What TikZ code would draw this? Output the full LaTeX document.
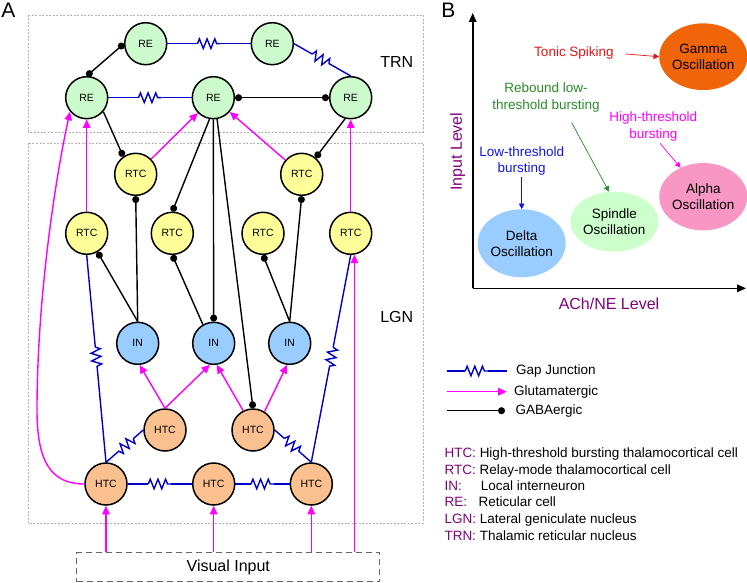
\documentclass[tikz,border=0pt]{standalone}
\usepackage{fontspec}
\setmainfont{Liberation Sans}
\usetikzlibrary{arrows.meta,decorations.pathmorphing,calc,shapes.geometric}
\definecolor{gapblue}{RGB}{0,0,200}
\definecolor{glumag}{RGB}{255,0,255}
\definecolor{abbr}{RGB}{128,0,128}
\definecolor{refill}{RGB}{204,250,204}
\definecolor{rtcfill}{RGB}{255,255,153}
\definecolor{infill}{RGB}{153,204,255}
\definecolor{htcfill}{RGB}{250,192,143}
\definecolor{gammafill}{RGB}{240,100,10}
\definecolor{alphafill}{RGB}{248,150,196}
\definecolor{spinfill}{RGB}{204,255,204}
\definecolor{deltafill}{RGB}{153,204,255}
\definecolor{tonicred}{RGB}{230,20,20}
\definecolor{rebgreen}{RGB}{40,140,40}
\definecolor{lowblue}{RGB}{20,20,230}
\newcommand{\gapjn}[2]{%
  \path (#1) -- coordinate[pos=0.5] (gjm) (#2);
  \draw[gapl] (#1) -- ($(gjm)!11.5pt!(#1)$);
  \draw[gapzz] ($(gjm)!11.5pt!(#1)$) -- ($(gjm)!11.5pt!(#2)$);
  \draw[gapl] ($(gjm)!11.5pt!(#2)$) -- (#2);
}
\begin{document}
\begin{tikzpicture}[x=1pt,y=-1pt,
  cell/.style={circle, draw=black, line width=1.5pt, minimum size=42pt, inner sep=0pt, font=\fontsize{10.5}{12}\selectfont},
  recell/.style={cell, fill=refill},
  rtccell/.style={cell, fill=rtcfill},
  incell/.style={cell, fill=infill},
  htccell/.style={cell, fill=htcfill},
  gaba/.style={draw=black, line width=1.4pt, -{Circle[length=7pt]}},
  gababoth/.style={draw=black, line width=1.4pt, {Circle[length=7pt]}-{Circle[length=7pt]}},
  glu/.style={draw=glumag, line width=1.4pt, -{Triangle[length=8.5pt,width=7.5pt]}},
  gapl/.style={draw=gapblue, line width=1.4pt, line join=miter},
  gapzz/.style={gapl, decorate, decoration={zigzag, segment length=7.67pt, amplitude=4.8pt}},
  region/.style={draw=gray!60, line width=0.6pt, dash pattern=on 2pt off 1.5pt},
  lbl/.style={font=\fontsize{16}{19}\selectfont},
  bigl/.style={font=\fontsize{21}{24}\selectfont},
  btxt/.style={font=\fontsize{13.5}{16.5}\selectfont, align=center},
  osc/.style={ellipse, inner sep=0pt, font=\fontsize{13.5}{16}\selectfont, align=center},
  thin/.style={line width=0.7pt, -{Triangle[length=5.5pt,width=5.5pt]}},
  axis/.style={draw=black, line width=1.6pt, -{Triangle[length=9pt,width=7.5pt]}},
  defs/.style={anchor=base west, inner sep=0pt, font=\fontsize{13.5}{16}\selectfont},
  legt/.style={anchor=west, inner sep=0pt, font=\fontsize{13.5}{16}\selectfont}
]
\useasboundingbox (0,0) rectangle (747,583);

% ---------- Panel A ----------
\node[bigl] (labA) at (8.5,10) {A};
\draw[region] (28,15) rectangle (423,132);
\draw[region] (28,143) rectangle (423,523);
\node[lbl] (trn) at (396.7,62) {TRN};
\node[lbl] (lgn) at (396.7,316.7) {LGN};

\node[recell] (re1) at (145.7,43.7) {RE};
\node[recell] (re2) at (272.3,43.7) {RE};
\node[recell] (re3) at (86.7,97.7) {RE};
\node[recell] (re4) at (213.3,97.7) {RE};
\node[recell] (re5) at (350.7,97.7) {RE};

\node[rtccell] (rtc1) at (135.7,174.3) {RTC};
\node[rtccell] (rtc2) at (301.7,174.3) {RTC};
\node[rtccell] (rtc3) at (86.7,233.3) {RTC};
\node[rtccell] (rtc4) at (172.3,233.3) {RTC};
\node[rtccell] (rtc5) at (263,233.3) {RTC};
\node[rtccell] (rtc6) at (350.7,233.3) {RTC};

\node[incell] (in1) at (137.7,343.3) {IN};
\node[incell] (in2) at (213.7,343.3) {IN};
\node[incell] (in3) at (289.7,343.3) {IN};

\node[htccell] (htc1) at (165,430) {HTC};
\node[htccell] (htc2) at (253,430) {HTC};
\node[htccell] (htc3) at (106,484) {HTC};
\node[htccell] (htc4) at (213.7,484) {HTC};
\node[htccell] (htc5) at (311.3,484) {HTC};

\node[draw=gray!80!black, line width=1.2pt, dash pattern=on 6pt off 4pt, minimum width=303pt, minimum height=29pt, inner sep=0pt, font=\fontsize{16}{19}\selectfont] (vis) at (228.3,567) {Visual Input};

% TRN connections
\draw[gababoth] (re3.north) -- (re1.west);
\gapjn{re1}{re2}
\gapjn{re2.east}{re5.north}
\gapjn{re3}{re4}
\draw[gababoth] (re4) -- (re5);

% RE -> RTC / IN / HTC (GABAergic)
\draw[gaba] (re3.-40) -- (rtc1.125);
\draw[gaba] (re5.-105) -- (rtc2.50);
\draw[gaba] (re4.-100) -- (rtc4.north);
\draw[gaba] (re4.south) -- (in2.north);
\draw[gaba] (re4.-80) -- (htc2.north);

% IN -> RTC (GABAergic)
\draw[gaba] (in1.north) -- (rtc1.south);
\draw[gaba] (in1.north) -- (rtc3.-60);
\draw[gaba] (in2.120) -- (rtc4.south);
\draw[gaba] (in3.north) -- (rtc5.south);
\draw[gaba] (in3.north) -- (rtc2.south);

% Glutamatergic
\draw[glu] (htc3.west) .. controls (50,484) and (37,460) .. (37,410)
  .. controls (37,300) and (55,180) .. (re3.220);
\draw[glu] (rtc3) -- (re3);
\draw[glu] (rtc1) -- (re4);
\draw[glu] (rtc2) -- (re4);
\draw[glu] (rtc6) -- (re5);
\draw[glu] (htc1.north) -- (in1.-85);
\draw[glu] (htc1.north) -- (in2.-100);
\draw[glu] (htc2.117) -- (in2.-82);
\draw[glu] (htc2.58) -- (in3.-97);
\draw[glu] (vis.north -| htc3) -- (htc3);
\draw[glu] (vis.north -| htc4) -- (htc4);
\draw[glu] (vis.north -| htc5) -- (htc5);
\draw[glu] (vis.north -| rtc6.-80) -- (rtc6.-80);

% Gap junctions LGN
\gapjn{rtc3.south}{htc3.north}
\gapjn{rtc6.south}{htc5.north}
\gapjn{htc1.west}{htc3.north}
\gapjn{htc2.east}{htc5.north}
\gapjn{htc3}{htc4}
\gapjn{htc4}{htc5}

% ---------- Panel B ----------
\node[bigl] (labB) at (448.3,10) {B};
\coordinate (O) at (472.7,288.3);
\coordinate (ytop) at (472.7,13);
\coordinate (xend) at (746,288.3);
\draw[axis] (O) -- (ytop);
\draw[axis] (O) -- (xend);
\node[lbl, text=abbr] (xlab) at (609,303.3) {ACh/NE Level};
\node[lbl, text=abbr, rotate=90] (ylab) at (457.7,151.7) {Input Level};

\node[osc, fill=gammafill, minimum width=70pt, minimum height=66.7pt] (gamma) at (703.3,56.7) {Gamma\\Oscillation};
\node[osc, fill=alphafill, minimum width=70pt, minimum height=67.3pt] (alpha) at (703.3,196.7) {Alpha\\Oscillation};
\node[osc, fill=spinfill, minimum width=77.6pt, minimum height=60pt] (spindle) at (614.3,221.7) {Spindle\\Oscillation};
\node[osc, fill=deltafill, minimum width=76.7pt, minimum height=68pt] (delta) at (521.7,243.3) {Delta\\Oscillation};

\node[btxt, text=tonicred] (tonic) at (574,53.3) {Tonic Spiking};
\node[btxt, text=rebgreen] (reb) at (546,97.5) {Rebound low-\\threshold bursting};
\node[btxt, text=glumag] (high) at (653.3,126.7) {High-threshold\\bursting};
\node[btxt, text=lowblue] (low) at (521.7,161) {Low-threshold\\bursting};

\coordinate (rebtail) at (571.7,122.7);
\coordinate (hightail) at (660,143.3);
\coordinate (lowtail) at (521.7,176.7);
\draw[thin, draw=tonicred, shorten <=8pt] (tonic.east) -- (gamma.west);
\draw[thin, draw=rebgreen] (rebtail) -- (spindle.100);
\draw[thin, draw=glumag] (hightail) -- (alpha.128);
\draw[thin, draw=lowblue] (lowtail) -- (delta.north);

% Legend
\coordinate (lg1a) at (446.7,371);
\coordinate (lg1b) at (506.7,371);
\coordinate (lg2a) at (446.7,391.7);
\coordinate (lg2b) at (506.7,391.7);
\coordinate (lg3a) at (446.7,410.7);
\coordinate (lg3b) at (505,410.7);
\gapjn{lg1a}{lg1b}
\draw[glu] (lg2a) -- (lg2b);
\draw[gaba] (lg3a) -- (lg3b);
\node[legt] (lgt1) at (516,371) {Gap Junction};
\node[legt] (lgt2) at (514,391.7) {Glutamatergic};
\node[legt] (lgt3) at (515.3,410.7) {GABAergic};

% Definitions
\node[defs] (d1) at (444.3,457.3) {\textcolor{abbr}{HTC:} High-threshold bursting thalamocortical cell};
\node[defs] (d2) at (444.3,474) {\textcolor{abbr}{RTC:} Relay-mode thalamocortical cell};
\node[defs] (d3) at (444.3,490) {\textcolor{abbr}{IN:}\hspace{19pt}Local interneuron};
\node[defs] (d4) at (444.3,506.5) {\textcolor{abbr}{RE:}\hspace{11.5pt}Reticular cell};
\node[defs] (d5) at (444.3,523.3) {\textcolor{abbr}{LGN:} Lateral geniculate nucleus};
\node[defs] (d6) at (444.3,540) {\textcolor{abbr}{TRN:} Thalamic reticular nucleus};
\end{tikzpicture}
\end{document}
